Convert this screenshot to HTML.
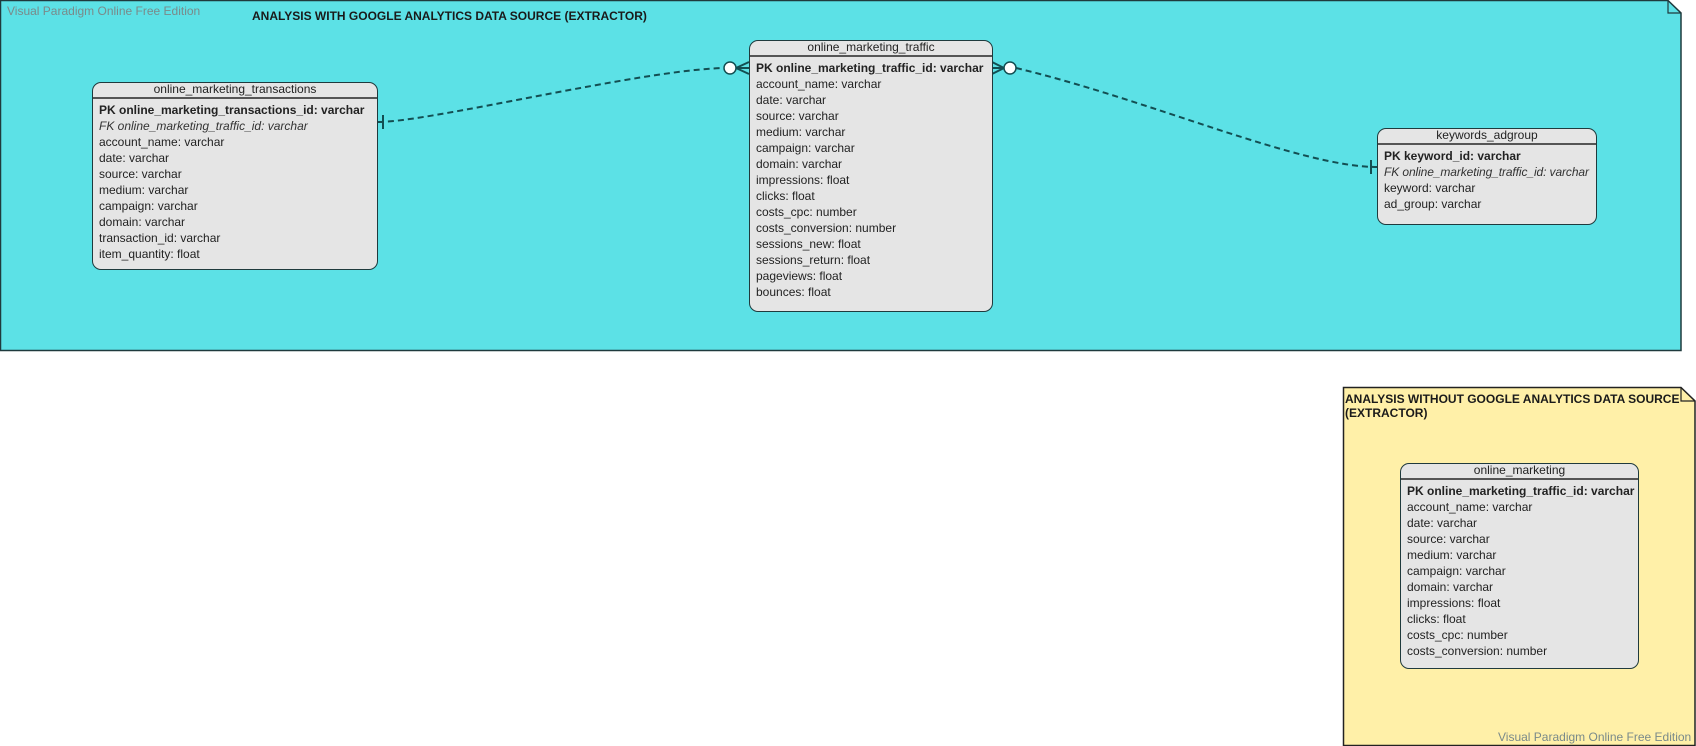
<!DOCTYPE html>
<html><head><meta charset="utf-8"><style>
body{margin:0;width:1696px;height:746px;background:#fff;overflow:hidden;font-family:"Liberation Sans",Arial,sans-serif;}
svg{position:absolute;left:0;top:0}
.t{position:absolute;background:#e5e5e5;border:1.5px solid #1f3a3d;border-radius:9px;box-sizing:border-box;font-size:12px;color:#222}
.t .h{height:14px;line-height:13px;text-align:center;border-bottom:2px solid #555;}
.t .r{padding-left:6px;line-height:16px;white-space:nowrap}
.b{font-weight:bold}.i{font-style:italic;color:#333}
.lbl{position:absolute;font-size:12px;font-weight:bold;color:#1a1a1a;white-space:nowrap}
.wm{position:absolute;font-size:12px;color:#7a8a8a;white-space:nowrap}
</style></head><body>
<svg width="1696" height="746">
<path d="M0.5,0.5 H1668 L1681,13 V350.5 H0.5 Z" fill="#5ce1e6" stroke="#1f3a3d" stroke-width="1.5"/>
<path d="M1668,0.5 V13 H1681" fill="none" stroke="#1f3a3d" stroke-width="1.2"/>
<path d="M1343.5,387.5 H1681 L1695,401 V745.5 H1343.5 Z" fill="#fff0a8" stroke="#222" stroke-width="1.5"/>
<path d="M1681,387.5 V401 H1695" fill="none" stroke="#222" stroke-width="1.2"/>
<g stroke="#134e52" stroke-width="2" fill="none">
<path d="M378,122 C430,122 640,70 724,68" stroke-dasharray="6,4"/>
<path d="M383,115 V129"/>
<path d="M736,68 L749,62 M736,68 L749,74 M736,68 H749"/>
<path d="M1016,68 C1150,100 1300,167 1377,167" stroke-dasharray="6,4"/>
<path d="M1371,160 V174"/>
<path d="M1004,68 L992,62 M1004,68 L992,74 M1004,68 H992"/>
</g>
<circle cx="730" cy="68" r="6" fill="#fff" stroke="#134e52" stroke-width="1.5"/>
<circle cx="1010" cy="68" r="6" fill="#fff" stroke="#134e52" stroke-width="1.5"/>
</svg>
<div class="wm" style="left:7px;top:4px">Visual Paradigm Online Free Edition</div>
<div class="lbl" style="left:252px;top:9px">ANALYSIS WITH GOOGLE ANALYTICS DATA SOURCE (EXTRACTOR)</div>
<div class="lbl" style="left:1345px;top:392px;line-height:14px">ANALYSIS WITHOUT GOOGLE ANALYTICS DATA SOURCE<br>(EXTRACTOR)</div>
<div class="wm" style="left:1498px;top:730px">Visual Paradigm Online Free Edition</div>

<div class="t" style="left:92px;top:82px;width:286px;height:188px">
<div class="h">online_marketing_transactions</div>
<div style="height:3px"></div>
<div class="r b">PK online_marketing_transactions_id: varchar</div>
<div class="r i">FK online_marketing_traffic_id: varchar</div>
<div class="r">account_name: varchar</div><div class="r">date: varchar</div><div class="r">source: varchar</div><div class="r">medium: varchar</div><div class="r">campaign: varchar</div><div class="r">domain: varchar</div><div class="r">transaction_id: varchar</div><div class="r">item_quantity: float</div>
</div>

<div class="t" style="left:749px;top:40px;width:244px;height:272px">
<div class="h">online_marketing_traffic</div>
<div style="height:3px"></div>
<div class="r b">PK online_marketing_traffic_id: varchar</div>
<div class="r">account_name: varchar</div><div class="r">date: varchar</div><div class="r">source: varchar</div><div class="r">medium: varchar</div><div class="r">campaign: varchar</div><div class="r">domain: varchar</div><div class="r">impressions: float</div><div class="r">clicks: float</div><div class="r">costs_cpc: number</div><div class="r">costs_conversion: number</div><div class="r">sessions_new: float</div><div class="r">sessions_return: float</div><div class="r">pageviews: float</div><div class="r">bounces: float</div>
</div>

<div class="t" style="left:1377px;top:128px;width:220px;height:97px">
<div class="h">keywords_adgroup</div>
<div style="height:3px"></div>
<div class="r b">PK keyword_id: varchar</div>
<div class="r i" style="letter-spacing:-0.1px">FK online_marketing_traffic_id: varchar</div>
<div class="r">keyword: varchar</div><div class="r">ad_group: varchar</div>
</div>

<div class="t" style="left:1400px;top:463px;width:239px;height:206px">
<div class="h">online_marketing</div>
<div style="height:3px"></div>
<div class="r b">PK online_marketing_traffic_id: varchar</div>
<div class="r">account_name: varchar</div><div class="r">date: varchar</div><div class="r">source: varchar</div><div class="r">medium: varchar</div><div class="r">campaign: varchar</div><div class="r">domain: varchar</div><div class="r">impressions: float</div><div class="r">clicks: float</div><div class="r">costs_cpc: number</div><div class="r">costs_conversion: number</div>
</div>
</body></html>
